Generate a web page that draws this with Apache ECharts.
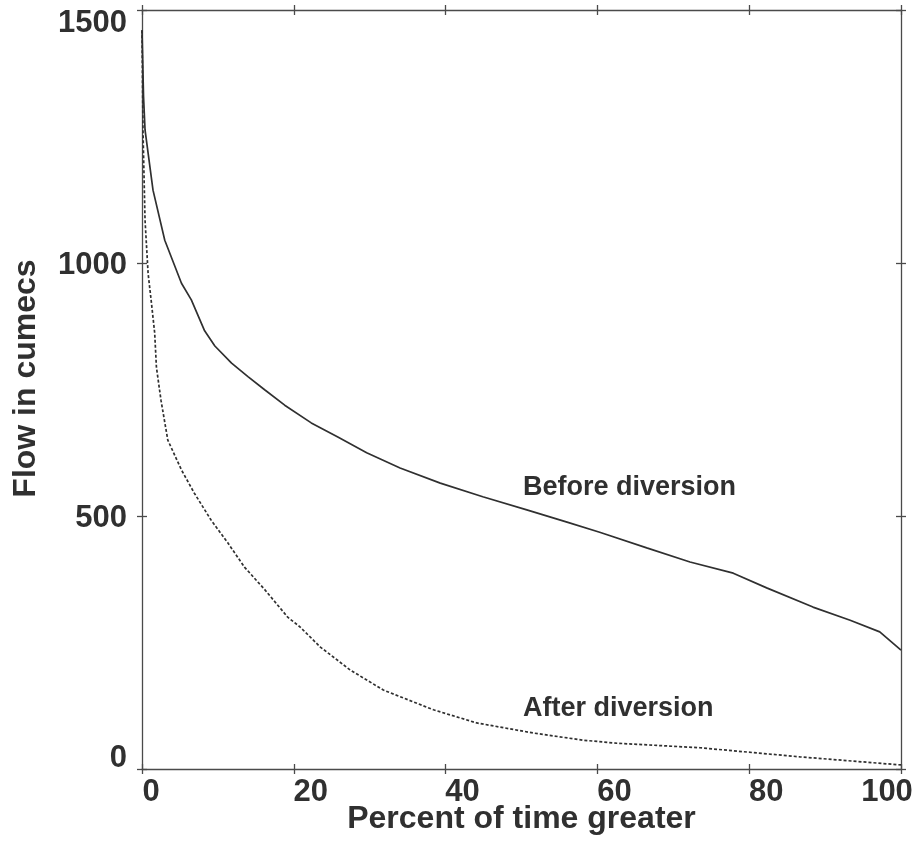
<!DOCTYPE html>
<html>
<head>
<meta charset="utf-8">
<script src="https://cdn.jsdelivr.net/npm/echarts@6/dist/echarts.min.js"></script>
<style>
  html, body { margin: 0; padding: 0; background: #fff; }
  #chart { width: 917px; height: 852px; }
</style>
</head>
<body>
<div id="chart"></div>
<script>
// Flow duration curves: flow (cumecs) against percent of time that flow is exceeded
const beforeX = [0, 0.2, 0.4, 1.45, 3.0, 5.2, 6.5, 8.25, 9.6, 11.8, 14.0, 16.2, 18.8, 22.3, 25.8, 29.6, 34.0, 39.3, 44.9, 50.7, 56.0, 60.3, 66.5, 72.2, 77.9, 82.3, 88.4, 93.3, 97.2, 100];
const beforeY = [1460, 1330, 1263, 1144, 1045, 960, 927, 866, 836, 802, 775, 749, 719, 684, 656, 625, 595, 565, 538, 512, 488, 468, 437, 409, 387, 358, 320, 294, 271, 235];

const afterX = [0, 0.13, 0.4, 0.8, 1.2, 1.67, 1.9, 2.5, 3.4, 5.2, 6.9, 9.1, 11.3, 13.5, 16.2, 19.2, 20.8, 23.5, 27.4, 31.8, 38.4, 44.1, 51.6, 58.1, 62.5, 73.5, 86.7, 100];
const afterY = [1460, 1263, 1085, 980, 927, 862, 794, 729, 650, 591, 545, 492, 447, 399, 354, 300, 281, 241, 196, 156, 117, 91, 71, 57, 51, 42, 24, 8];

// Curve captions, anchored in data coordinates
const noteText = ['Before diversion', 'After diversion'];
const noteX = [50.2, 50.2];
const noteY = [557, 119];

const xTicks = { min: 0, max: 100, interval: 20 };
const yTicks = { min: 0, max: 1500, interval: 500 };

const INK = '#303030';
const AXIS = '#4a4a4a';
const FONT = '"Liberation Sans", Arial, Helvetica, sans-serif';

const pair = (xs, ys) => xs.map((x, i) => [x, ys[i]]);

const tok = extra => Object.assign({
  fontFamily: FONT, fontSize: 31, fontWeight: 'bold', color: INK
}, extra);

const gridRect = { left: 142, right: 16, top: 10, bottom: 83, outerBoundsMode: 'none' };

// Each frame side carries ticks on both faces: grid 0 draws the outward
// ticks with the lines, grid 1 (same rectangle) adds the inward ticks.
function xAxisDef(grid, pos, inside, labels) {
  const a = {
    type: 'value', gridIndex: grid, position: pos,
    min: xTicks.min, max: xTicks.max, interval: xTicks.interval,
    axisLine: { show: !inside, onZero: false, lineStyle: { color: AXIS, width: 1.3 } },
    axisTick: { show: true, inside: inside, length: 5, lineStyle: { color: AXIS, width: 1.3 } },
    splitLine: { show: false },
    axisLabel: { show: false }
  };
  if (labels) {
    a.axisLabel = {
      show: true, margin: 8,
      formatter: v => v === 0 ? '{a|0}' : (v === 100 ? '{c|100}' : '{b|' + v + '}'),
      rich: {
        a: tok({ padding: [0, 0, 0, 18] }),
        b: tok({ padding: [0, 0, 0, 34] }),
        c: tok({ padding: [0, 28, 0, 0] })
      }
    };
    a.name = 'Percent of time greater';
    a.nameLocation = 'middle';
    a.nameGap = 34;
    a.nameMoveOverlap = false;
    a.nameTextStyle = { fontFamily: FONT, fontSize: 32, fontWeight: 'bold', color: INK };
  }
  return a;
}

function yAxisDef(grid, pos, inside, labels) {
  const a = {
    type: 'value', gridIndex: grid, position: pos,
    min: yTicks.min, max: yTicks.max, interval: yTicks.interval,
    axisLine: { show: !inside, onZero: false, lineStyle: { color: AXIS, width: 1.3 } },
    axisTick: { show: true, inside: inside, length: 5, lineStyle: { color: AXIS, width: 1.3 } },
    splitLine: { show: false },
    axisLabel: { show: false }
  };
  if (labels) {
    a.axisLabel = {
      show: true, margin: 15,
      formatter: v => v === 1500 ? '{t|1500}' : (v === 0 ? '{z|0}' : '{n|' + v + '}'),
      rich: {
        t: tok({ padding: [26, 0, 0, 0] }),
        z: tok({ padding: [0, 0, 22, 0] }),
        n: tok({ padding: [4, 0, 0, 0] })
      }
    };
    a.name = 'Flow in cumecs';
    a.nameLocation = 'middle';
    a.nameRotate = 90;
    a.nameGap = 100;
    a.nameMoveOverlap = false;
    a.nameTextStyle = { fontFamily: FONT, fontSize: 32, fontWeight: 'bold', color: INK, padding: [0, 0, 0, 22] };
  }
  return a;
}

function note(i) {
  return {
    coord: [noteX[i], noteY[i]],
    symbol: 'circle', symbolSize: 0,
    itemStyle: { color: 'rgba(0,0,0,0)' },
    label: {
      show: true, position: 'right', distance: 0,
      formatter: noteText[i],
      fontFamily: FONT, fontSize: 27, fontWeight: 'bold', color: INK
    }
  };
}

const chart = echarts.init(document.getElementById('chart'), null, { renderer: 'canvas' });
chart.setOption({
  backgroundColor: '#ffffff',
  animation: false,
  grid: [Object.assign({}, gridRect), Object.assign({}, gridRect)],
  xAxis: [
    xAxisDef(0, 'bottom', false, true),
    xAxisDef(0, 'top', false, false),
    xAxisDef(1, 'bottom', true, false),
    xAxisDef(1, 'top', true, false)
  ],
  yAxis: [
    yAxisDef(0, 'left', false, true),
    yAxisDef(0, 'right', false, false),
    yAxisDef(1, 'left', true, false),
    yAxisDef(1, 'right', true, false)
  ],
  series: [
    {
      name: 'Before diversion', type: 'line', xAxisIndex: 0, yAxisIndex: 0,
      data: pair(beforeX, beforeY),
      showSymbol: false, smooth: false, silent: true,
      lineStyle: { color: INK, width: 1.7 },
      markPoint: { silent: true, data: [note(0)] }
    },
    {
      name: 'After diversion', type: 'line', xAxisIndex: 0, yAxisIndex: 0,
      data: pair(afterX, afterY),
      showSymbol: false, smooth: false, silent: true,
      lineStyle: { color: INK, width: 1.7, type: [3, 2] },
      markPoint: { silent: true, data: [note(1)] }
    }
  ]
});
</script>
</body>
</html>
